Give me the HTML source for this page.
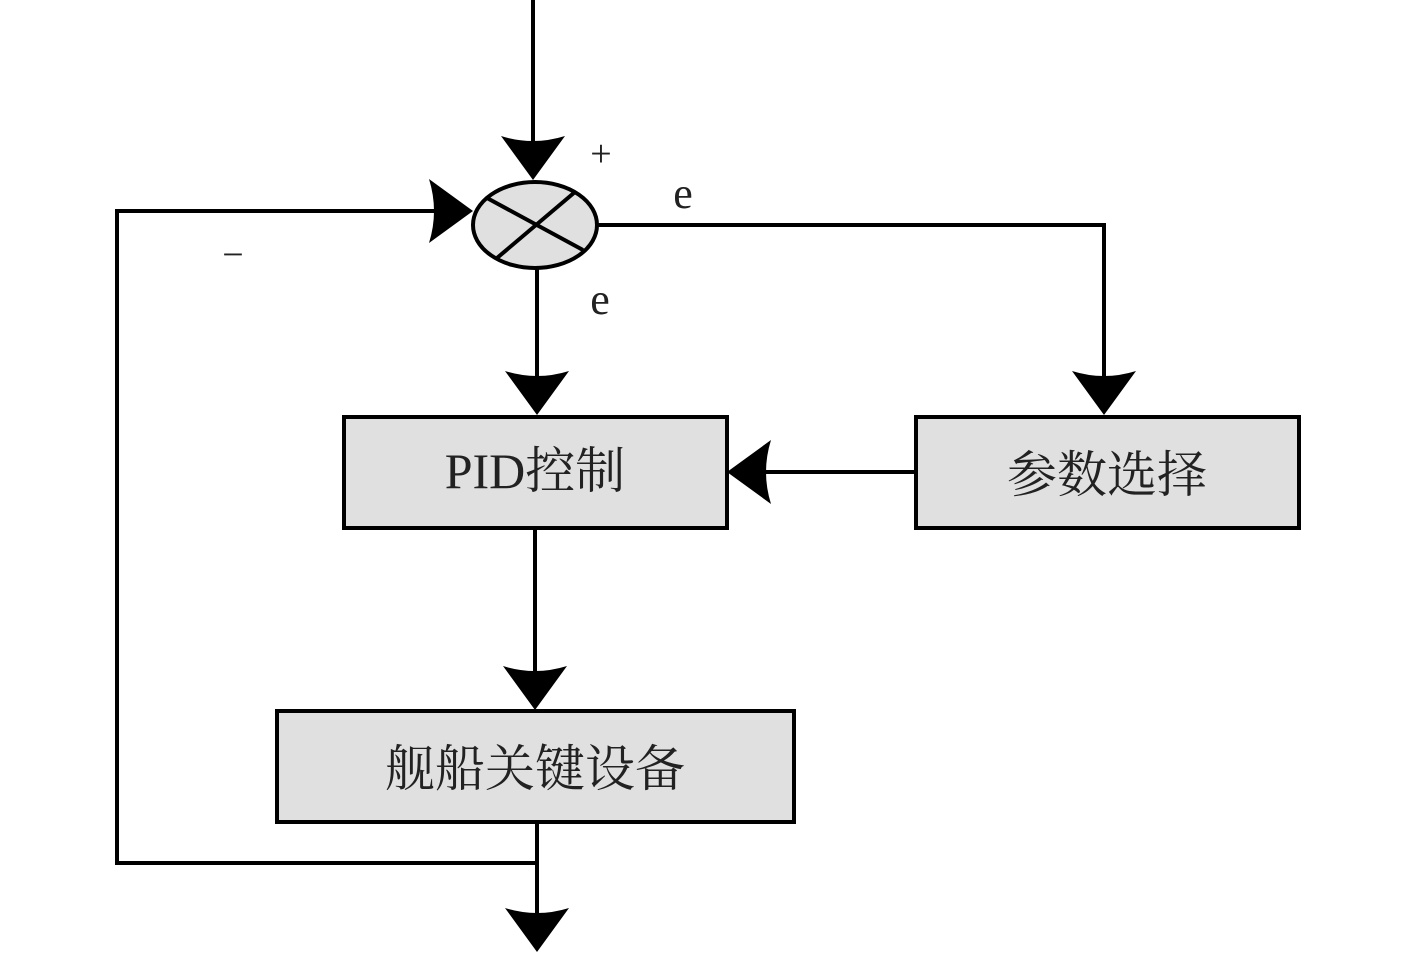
<!DOCTYPE html>
<html><head><meta charset="utf-8"><style>body{margin:0;background:#fff}</style></head><body>
<svg width="1417" height="953" viewBox="0 0 1417 953" xmlns="http://www.w3.org/2000/svg">
<defs><path id="ad" d="M0,0 L-32,-44 Q0,-34 32,-44 Z" fill="#000"/></defs>
<g stroke="#000" stroke-width="4" fill="none">
<line x1="533" y1="0" x2="533" y2="160"/>
<line x1="537" y1="268" x2="537" y2="395"/>
<polyline points="597,225 1104,225 1104,395"/>
<line x1="916" y1="472" x2="760" y2="472"/>
<line x1="535" y1="528" x2="535" y2="690"/>
<line x1="537" y1="822" x2="537" y2="930"/>
<polyline points="537,863 117,863 117,211 450,211"/>
</g>
<use href="#ad" x="533" y="180"/>
<use href="#ad" x="537" y="415"/>
<use href="#ad" x="1104" y="415"/>
<use href="#ad" x="535" y="710"/>
<use href="#ad" x="537" y="952"/>
<use href="#ad" transform="translate(473,211) rotate(-90)"/>
<use href="#ad" transform="translate(727,472) rotate(90)"/>
<ellipse cx="535" cy="225" rx="62" ry="43" fill="#e0e0e0" stroke="#000" stroke-width="4"/>
<line x1="487" y1="198" x2="583" y2="250" stroke="#000" stroke-width="4"/>
<line x1="575" y1="192" x2="497" y2="258" stroke="#000" stroke-width="4"/>
<g fill="#e0e0e0" stroke="#000" stroke-width="4">
<rect x="344" y="417" width="383" height="111"/>
<rect x="916" y="417" width="383" height="111"/>
<rect x="277" y="711" width="517" height="111"/>
</g>
<g font-family="Liberation Serif, Noto Serif CJK SC, serif" fill="#222" font-size="50">
<text x="535" y="488" text-anchor="middle">PID控制</text>
<text x="1107" y="492" text-anchor="middle">参数选择</text>
<text x="535" y="786" text-anchor="middle">舰船关键设备</text>
<text x="683" y="208" font-size="44" text-anchor="middle">e</text>
<text x="600" y="314" font-size="44" text-anchor="middle">e</text>
<text x="601" y="166" font-size="38" text-anchor="middle">+</text>
<text x="233" y="267" font-size="38" text-anchor="middle">−</text>
</g>
</svg>
</body></html>
